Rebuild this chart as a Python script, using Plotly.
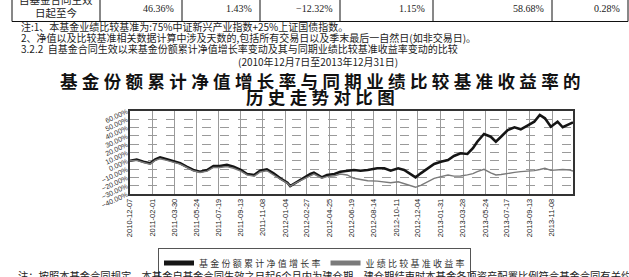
import plotly.graph_objects as go

# ---------------- data ----------------
dates = ["2010-12-07","2010-12-24","2011-01-10","2011-01-27","2011-02-09","2011-02-21","2011-03-10","2011-03-28","2011-04-13","2011-04-29",
         "2011-05-16","2011-06-02","2011-06-20","2011-07-06","2011-07-22","2011-08-09","2011-08-26","2011-09-13","2011-09-29","2011-10-17",
         "2011-11-01","2011-11-18","2011-12-05","2011-12-22","2012-01-09","2012-01-16","2012-02-02","2012-02-20","2012-03-07","2012-03-16",
         "2012-04-05","2012-04-18","2012-05-07","2012-05-22","2012-06-08","2012-06-25","2012-07-12","2012-07-30","2012-08-23","2012-09-10",
         "2012-09-26","2012-10-15","2012-10-30","2012-11-16","2012-11-28","2012-12-11","2012-12-28","2013-01-14","2013-01-31","2013-02-18",
         "2013-03-05","2013-03-22","2013-04-08","2013-04-22","2013-05-03","2013-05-20","2013-06-06","2013-06-19","2013-07-02","2013-07-19",
         "2013-08-05","2013-08-21","2013-09-09","2013-09-24","2013-10-08","2013-10-21","2013-11-05","2013-11-22","2013-12-05","2013-12-23",
         "2013-12-31"]

fund_nav_growth = [0.0, 1.5, -1.1, -3.0, 1.8, 4.2, 1.8, -1.1, -3.0, -7.1,
                   -11.1, -13.1, -11.1, -6.3, -6.3, -5.0, -7.1, -11.1, -15.9, -17.1,
                   -11.9, -10.2, -15.1, -21.1, -26.4, -30.4, -25.2, -19.9, -15.9, -14.3,
                   -19.9, -17.1, -15.9, -13.1, -11.9, -11.1, -11.9, -11.1, -9.0, -9.0,
                   -11.9, -9.0, -11.1, -15.9, -19.9, -15.1, -9.0, -3.9, -1.1, 1.0,
                   5.8, 9.0, 8.2, 15.1, 23.0, 32.3, 29.0, 23.0, 29.0, 37.1,
                   40.4, 38.0, 43.1, 47.1, 55.2, 51.2, 41.1, 47.1, 40.4, 45.2,
                   46.36]

benchmark_return = [0.0, 0.5, -2.0, -4.0, 0.5, 2.5, 0.5, -2.0, -4.0, -8.0,
                    -12.0, -14.0, -12.5, -8.0, -8.0, -7.0, -9.0, -12.5, -17.0, -18.5,
                    -13.5, -12.0, -16.5, -22.0, -27.0, -30.5, -26.0, -21.5, -17.5, -16.0,
                    -21.0, -19.0, -18.0, -16.0, -17.1, -21.1, -22.5, -24.0, -24.5, -25.2,
                    -26.5, -25.2, -27.5, -30.0, -31.9, -29.5, -25.5, -21.1, -19.0, -17.1,
                    -18.5, -18.3, -17.0, -15.5, -13.0, -10.2, -14.5, -17.1, -16.5, -15.0,
                    -14.0, -13.1, -12.5, -11.9, -10.5, -9.0, -11.5, -11.1, -10.5, -11.1,
                    -12.32]

tick_dates = ["2010-12-07","2011-02-01","2011-03-30","2011-05-24","2011-07-19","2011-09-13","2011-11-08",
              "2012-01-04","2012-02-27","2012-04-25","2012-06-19","2012-08-14","2012-10-11","2012-12-04",
              "2013-01-31","2013-03-28","2013-05-24","2013-07-17","2013-09-13","2013-11-08"]

series_names = ["基金份额累计净值增长率", "业绩比较基准收益率"]

table_row_label = ["自基金合同生效", "日起至今"]
table_values = ["46.36%", "1.43%", "−12.32%", "1.15%", "58.68%", "0.28%"]

note_lines = ["注:1、本基金业绩比较基准为:75%中证新兴产业指数+25%上证国债指数。",
              "2、净值以及比较基准相关数据计算中涉及天数的,包括所有交易日以及季末最后一自然日(如非交易日)。",
              "3.2.2  自基金合同生效以来基金份额累计净值增长率变动及其与同期业绩比较基准收益率变动的比较"]
period_text = "(2010年12月7日至2013年12月31日)"
chart_title = ["基金份额累计净值增长率与同期业绩比较基准收益率的", "历史走势对比图"]
bottom_note = "注：按照本基金合同规定，本基金自基金合同生效之日起6个月内为建仓期，建仓期结束时本基金各项资产配置比例符合基金合同有关约定。"

# ---------------- layout helpers ----------------
W, H = 629, 277
L, R, T, B = 130, 573, 111, 194


def px(x):
    return (x - L) / (R - L)


def py(y):
    return (B - y) / (B - T)


def spaced(s, sp="\u2005"):
    return sp.join(list(s))


CJK = "Noto Sans CJK SC"
SERIF = "Liberation Serif"

fig = go.Figure()
fig.add_trace(go.Scatter(x=dates, y=fund_nav_growth, mode="lines", name=spaced(series_names[0], "\u2005"),
                         line=dict(color="#151515", width=2.6)))
fig.add_trace(go.Scatter(x=dates, y=benchmark_return, mode="lines", name=spaced(series_names[1], "\u2005"),
                         line=dict(color="#7a7a7a", width=1.4)))

shapes = []
annotations = []

# table fragment at the top
col_edges = [12, 100, 182, 260, 340, 433, 552, 628]
for xe in col_edges:
    shapes.append(dict(type="line", xref="paper", yref="paper", x0=px(xe), x1=px(xe), y0=py(-2), y1=py(21.5),
                       line=dict(color="#111", width=1)))
shapes.append(dict(type="line", xref="paper", yref="paper", x0=px(col_edges[0]), x1=px(col_edges[-1]),
                   y0=py(21.5), y1=py(21.5), line=dict(color="#111", width=1)))
annotations.append(dict(text=table_row_label[0], x=px(56), y=py(-1), xref="paper", yref="paper", showarrow=False,
                        xanchor="center", yanchor="middle", font=dict(family=CJK, size=10.5, color="#222")))
annotations.append(dict(text=table_row_label[1], x=px(56), y=py(12.5), xref="paper", yref="paper", showarrow=False,
                        xanchor="center", yanchor="middle", font=dict(family=CJK, size=10.5, color="#222")))
for i, v in enumerate(table_values):
    annotations.append(dict(text=v, x=px(col_edges[i + 2] - 6), y=py(8.5), xref="paper", yref="paper",
                            showarrow=False, xanchor="right", yanchor="middle",
                            font=dict(family=SERIF, size=10, color="#222")))

# notes
for txt, yy in zip(note_lines, [26.5, 37.5, 48]):
    annotations.append(dict(text=txt, x=px(19), y=py(yy), xref="paper", yref="paper", showarrow=False,
                            xanchor="left", yanchor="middle", font=dict(family=CJK, size=10, color="#222")))
annotations.append(dict(text=period_text, x=px(318), y=py(61.5), xref="paper", yref="paper", showarrow=False,
                        xanchor="center", yanchor="middle", font=dict(family=CJK, size=10, color="#222")))

# chart title
for txt, yy in zip(chart_title, [80, 96]):
    annotations.append(dict(text="<b>" + spaced(txt, "\u2005") + "</b>", x=px(320), y=py(yy), xref="paper", yref="paper",
                            showarrow=False, xanchor="center", yanchor="middle",
                            font=dict(family=CJK, size=17.5, color="#111")))

# bottom note (cut off by the page edge)
annotations.append(dict(text=bottom_note, x=px(16), y=py(275), xref="paper", yref="paper", showarrow=False,
                        xanchor="left", yanchor="middle", font=dict(family=CJK, size=10.3, color="#222")))

fig.update_layout(
    width=W, height=H,
    margin=dict(l=L, r=W - R, t=T, b=H - B, pad=0, autoexpand=False),
    paper_bgcolor="white", plot_bgcolor="white",
    font=dict(family=CJK, color="#222"),
    showlegend=True,
    legend=dict(orientation="h", xref="container", yref="container", x=158 / W, y=1 - 247.5 / H,
                xanchor="left", yanchor="top",
                bordercolor="#555", borderwidth=1, bgcolor="rgba(255,255,255,0)",
                font=dict(family=CJK, size=9, color="#333"), itemwidth=30,
                tracegroupgap=0, itemsizing="constant"),
    shapes=shapes,
    annotations=annotations,
    xaxis=dict(type="date", range=["2010-12-07", "2013-12-31"], tickmode="array", tickvals=tick_dates,
               tickformat="%Y-%m-%d", tickangle=-90, tickfont=dict(family="Liberation Sans", size=7.5, color="#222"),
               showgrid=True, gridcolor="#9a9a9a", gridwidth=0.8, showline=True, mirror=True,
               linecolor="#333", linewidth=1.5, ticks="", zeroline=False, automargin=False),
    yaxis=dict(range=[-40, 60], dtick=10, tick0=0, tickformat=".2f", ticksuffix="%", tickangle=-25,
               tickfont=dict(family="Liberation Sans", size=7, color="#333"),
               showgrid=True, gridcolor="#9a9a9a", gridwidth=0.8, griddash="dash",
               showline=True, mirror=True, linecolor="#333", linewidth=1.5, ticks="", zeroline=False,
               automargin=False),
)

fig.write_html("out.html", config={"displayModeBar": False},
               post_script="document.body.style.margin='0';document.body.style.overflow='hidden';")
